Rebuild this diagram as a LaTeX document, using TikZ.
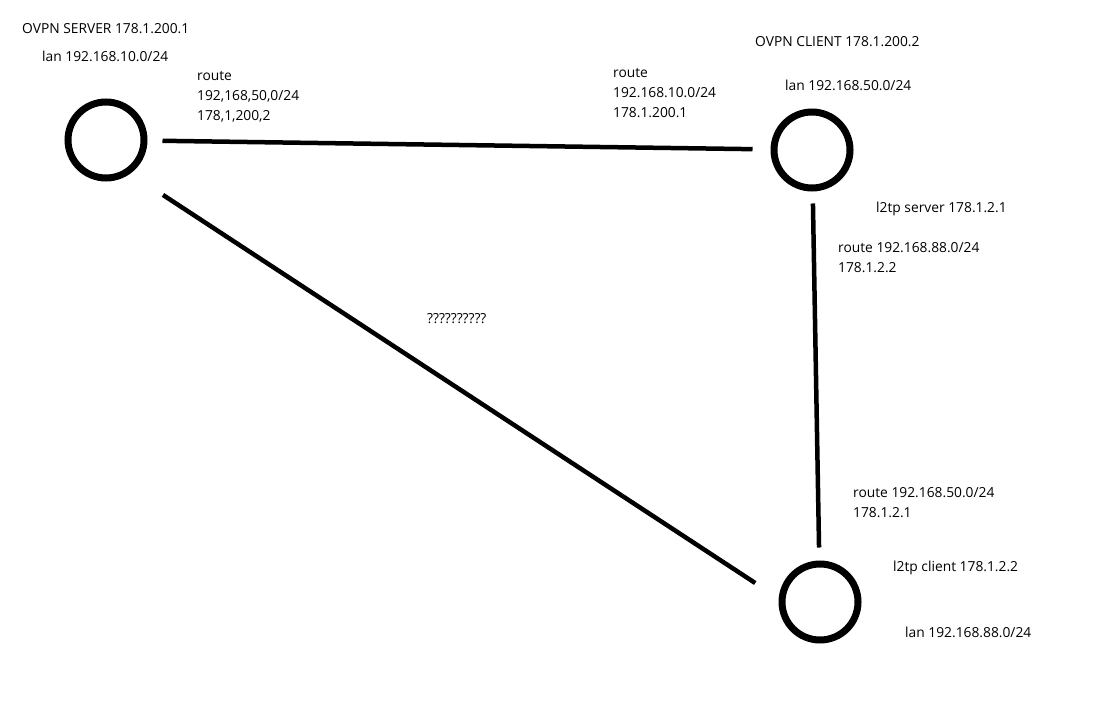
\documentclass[tikz,border=0pt]{standalone}
\usepackage{fontspec}
\setmainfont{Open Sans}
\begin{document}
\begin{tikzpicture}[x=1pt,y=-1pt, every node/.style={font=\fontsize{13.8}{20}\selectfont}]
\useasboundingbox (0,0) rectangle (1098,706);
\coordinate (o1) at (106,140);
\coordinate (o2) at (812,150);
\coordinate (o3) at (820,602);

  \node (srv) at (o1) [circle,draw,line width=7pt,minimum size=76pt] {};
  \node (cli) at (o2) [circle,draw,line width=7pt,minimum size=76pt] {};
  \node (l2c) at (o3) [circle,draw,line width=7pt,minimum size=76pt] {};

  \draw[color=black,line width=4.5pt,shorten <=15pt,shorten >=18pt] (srv) to[] (cli);
  \draw[color=black,line width=4.5pt,shorten <=12pt,shorten >=13pt] (cli) to[] (l2c);
  \draw[color=black,line width=4.5pt,shorten <=39pt,shorten >=28pt] (srv.-54) to[] (l2c.175);

  \node (srvname) at (22,29) [anchor=west,inner sep=0pt] {OVPN SERVER 178.1.200.1};
  \node (srvlan) at (42,56) [anchor=west,inner sep=0pt] {lan 192.168.10.0/24};
  \node (srvroute) at (197,97) [anchor=west,inner sep=0pt,align=left] {route\\192,168,50,0/24\\178,1,200,2};
  \node (cliname) at (755,42) [anchor=west,inner sep=0pt] {OVPN CLIENT 178.1.200.2};
  \node (cliroute) at (613,93) [anchor=west,inner sep=0pt,align=left] {route\\192.168.10.0/24\\178.1.200.1};
  \node (clilan) at (785,85) [anchor=west,inner sep=0pt] {lan 192.168.50.0/24};
  \node (l2srv) at (876,209) [anchor=west,inner sep=0pt] {l2tp server 178.1.2.1};
  \node (l2srvroute) at (838,258) [anchor=west,inner sep=0pt,align=left] {route 192.168.88.0/24\\178.1.2.2};
  \node (unknown) at (427,319) [anchor=west,inner sep=0pt] {??????????};
  \node (l2croute) at (853,503) [anchor=west,inner sep=0pt,align=left] {route 192.168.50.0/24\\178.1.2.1};
  \node (l2cname) at (893,568) [anchor=west,inner sep=0pt] {l2tp client 178.1.2.2};
  \node (l2clan) at (905,632) [anchor=west,inner sep=0pt] {lan 192.168.88.0/24};
\end{tikzpicture}
\end{document}
